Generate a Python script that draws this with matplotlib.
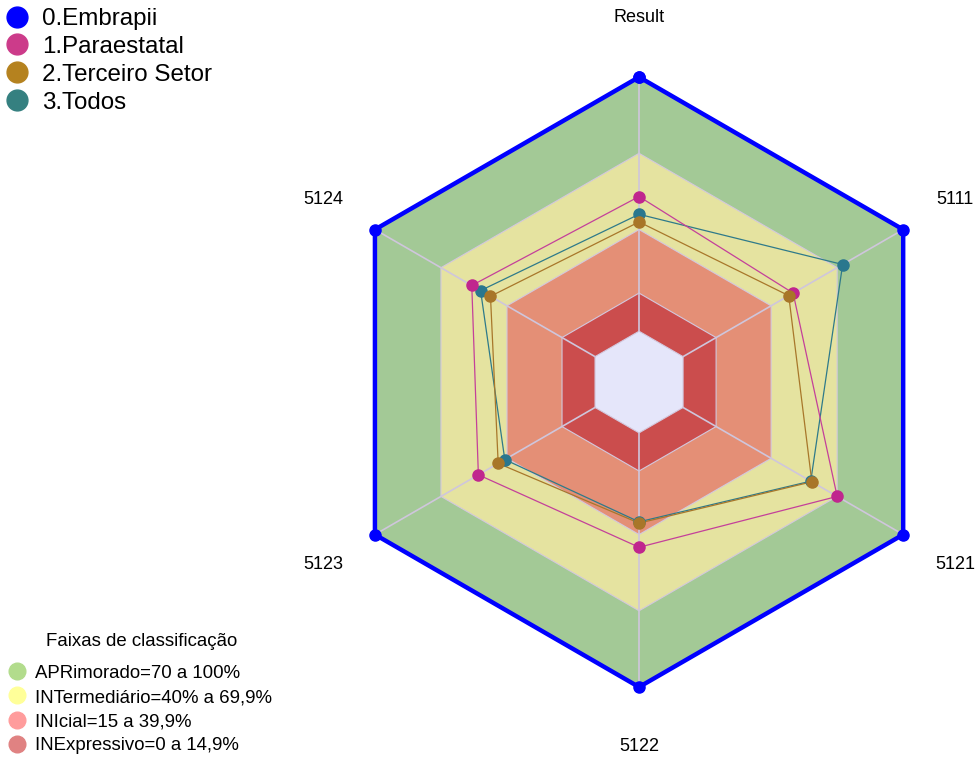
# Radar chart of classification bands with four series
import numpy as np
import matplotlib.pyplot as plt
from matplotlib.lines import Line2D

plt.rcParams['font.family'] = ['Liberation Sans', 'DejaVu Sans']

# Data
axes_labels = ["Result", "5111", "5121", "5122", "5123", "5124"]
series_names = ["0.Embrapii", "1.Paraestatal", "2.Terceiro Setor", "3.Todos"]
embrapii = [100, 100, 100, 100, 100, 100]
paraestatal = [53, 50, 70, 45, 53, 56]
terceiro = [43, 48, 58.5, 35.5, 44, 47.5]
todos = [46, 72.5, 58, 35, 41, 52]

band_title = "Faixas de classificação"
band_names = ["APRimorado=70 a 100%", "INTermediário=40% a 69,9%",
              "INIcial=15 a 39,9%", "INExpressivo=0 a 14,9%"]
band_limits = [100, 70, 40, 15, 0]

# Colours
band_colors = ["#a3c996", "#e5e3a0", "#e48f76", "#cb4d4d", "#e5e6fa"]
band_legend_colors = ["#b2dc8c", "#ffff99", "#ff9c9c", "#e08282"]
line_colors = ["#0000ff", "#c4409a", "#a8772a", "#2e7a8a"]
marker_colors = ["#0000ff", "#c0268e", "#a87628", "#2a778e"]
legend_colors = ["#0000ff", "#cc3b8a", "#b5821f", "#358080"]

fig = plt.figure(figsize=(9.77, 7.6), dpi=100)
ax = fig.add_axes([0.3419, 0.096, 0.6244, 0.8026], projection='polar')
ax.set_theta_zero_location('N')
ax.set_theta_direction(-1)
ax.set_ylim(-20, 100)
ax.set_facecolor('none')
ax.grid(False)
ax.spines['polar'].set_visible(False)
ax.set_xticks([])
ax.set_yticks([])

theta = np.deg2rad(np.arange(len(axes_labels)) * 60)
theta_closed = np.append(theta, theta[0])

# Filled bands, largest first
for lim, col in zip(band_limits, band_colors):
    r = np.full(len(theta_closed), lim)
    ax.fill(theta_closed, r, color=col, lw=0, zorder=1)
    if lim < 100:
        ax.plot(theta_closed, r, color="#d3c8de", lw=0.8, zorder=2)

# Spokes
for t in theta:
    ax.plot([t, t], [0, 100], color="#cfc6dc", lw=1.2, zorder=2)

# Series (drawing order: teal under pink under brown)
all_series = [embrapii, paraestatal, terceiro, todos]
order = [0, 3, 1, 2]
for k, i in enumerate(order):
    vals = np.append(all_series[i], all_series[i][0])
    if i == 0:
        ax.plot(theta_closed, vals, color=line_colors[i], lw=3.2, marker='o',
                ms=8, mfc=marker_colors[i], mec=marker_colors[i], zorder=6,
                clip_on=False)
    else:
        ax.plot(theta_closed, vals, color=line_colors[i], lw=0.9, zorder=3 + k * 0.1)
        ax.plot(theta, all_series[i], 'o', ms=8, color=marker_colors[i],
                zorder=4 + k * 0.1)

# Axis labels
for t, lab in zip(theta, axes_labels):
    ax.text(t, 123.5, lab, ha='center', va='center', fontsize=13, clip_on=False)

# Series legend
handles = [Line2D([], [], ls='none', marker='o', ms=15, color=c) for c in legend_colors]
fig.legend(handles, series_names, loc='upper left', bbox_to_anchor=(-0.006, 1.002),
           frameon=False, fontsize=17.4, handletextpad=0.5, labelspacing=0.24,
           borderaxespad=0.2, handlelength=1.1, borderpad=0.2)

# Band legend
bhandles = [Line2D([], [], ls='none', marker='o', ms=12, color=c) for c in band_legend_colors]
fig.legend(bhandles, band_names, loc='lower left', bbox_to_anchor=(0.001, 0.0015),
           frameon=False, fontsize=13.4, handletextpad=0.37, labelspacing=0.38,
           borderaxespad=0.05, handlelength=1.2, borderpad=0.2)
fig.text(142 / 977, 1 - 642 / 760, band_title, ha='center', va='center', fontsize=13.4)

fig.savefig("out.png", dpi=100)
